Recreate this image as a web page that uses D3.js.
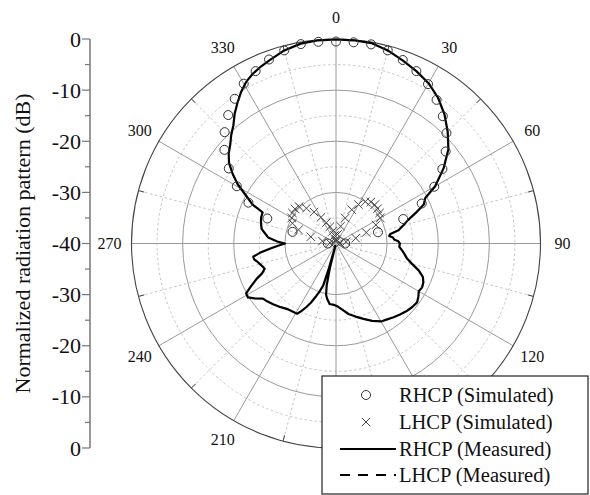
<!DOCTYPE html>
<html>
<head>
<meta charset="utf-8">
<script src="https://cdn.jsdelivr.net/npm/d3@7/dist/d3.min.js"></script>
<style>
  html, body { margin: 0; padding: 0; background: #fff; }
  svg { display: block; }
</style>
</head>
<body>
<svg id="chart" width="590" height="495"></svg>
<script>
// Polar angle labels (degrees, clockwise from top) and radial dB levels
const angleTicks = [0, 30, 60, 90, 120, 150, 180, 210, 240, 270, 300, 330];
const radialTicks = [0, -10, -20, -30, -40];
const axisTickLabels = ["0", "-10", "-20", "-30", "-40"];

// RHCP, simulated
const rhcpSimAngles = [-90, -75, -70, -65, -60, -55, -50, -45, -40, -35, -30, -25, -20, -15, -10, -5,
  0, 5, 10, 15, 20, 25, 30, 35, 40, 45, 50, 55, 60, 65, 70, 75, 90];
const rhcpSimValues = [-38.4, -31.2, -25.7, -21.1, -17.6, -14.4, -11.5, -9.2, -7.2, -5.45, -3.9, -2.8, -1.7, -0.9, -0.4, -0.4,
  -0.5, -0.5, -0.45, -0.9, -1.8, -2.8, -4.0, -5.7, -7.5, -9.45, -12.0, -14.6, -17.8, -21.5, -26.0, -31.5, -38.2];

// LHCP, simulated
const lhcpSimAngles = [-85, -80, -75, -70, -65, -60, -55, -50, -45, -40, -35, -30, -25, -20, -15, -10, -5,
  0, 5, 10, 15, 20, 25, 30, 35, 40, 45, 50, 55, 60, 65, 70, 75, 80, 85];
const lhcpSimValues = [-38.8, -37.3, -34.9, -32.2, -30.6, -30.0, -29.6, -29.5, -29.8, -31.0, -32.5, -34.1, -35.5, -36.5, -37.5, -38.4, -39.3,
  -39.6, -39.2, -38.2, -36.5, -34.7, -32.7, -31.2, -30.0, -29.4, -29.3, -29.4, -29.6, -30.0, -31.4, -33.7, -36.0, -38.0, -39.2];

// RHCP, measured (full turn)
const rhcpMeasAngles = [0, 5, 10, 15, 20, 25, 30, 35, 40, 45, 50, 55, 60, 63, 66, 69, 72, 75, 78, 80, 82, 84, 86, 88,
  90, 93, 96, 99, 102, 105, 108, 111, 114, 117, 120, 123, 126, 130, 134, 138, 142, 146, 150, 155, 160, 165, 170, 174, 178,
  182, 186, 189, 191, 192.5, 194, 195, 196, 197, 199, 200.5, 203, 205, 207, 209, 213, 217, 221, 226, 230, 233, 236, 238.5,
  241, 243, 246, 248, 250.5, 253, 256.5, 259, 261, 263, 265.5, 268, 270, 272, 275, 278, 281, 285, 289, 293, 295, 298,
  301, 304, 307, 310, 313, 316, 319, 322, 325, 328, 331, 334, 337, 340, 345, 350, 355, 360];
const rhcpMeasValues = [-0.1, -0.1, -0.2, -0.9, -1.9, -2.8, -3.8, -5.2, -7.0, -9.1, -11.3, -14.3, -17.6, -20.4, -21.2, -23.3, -25.2, -26.4, -27.5, -29.2, -29.5, -28.8, -28.6, -27.8,
  -27.5, -27.6, -27.0, -26.4, -25.8, -24.6, -23.0, -21.8, -21.3, -21.1, -21.3, -20.8, -20.4, -20.6, -20.9, -21.3, -21.7, -22.1, -22.4, -23.3, -24.3, -25.2, -26.0, -26.9, -27.6,
  -28.0, -28.1, -29.0, -29.8, -31.6, -35.0, -39.5, -35.0, -31.4, -30.0, -29.1, -27.4, -26.3, -25.2, -24.3, -24.2, -24.0, -23.5, -22.9, -22.4, -22.1, -20.8, -19.8,
  -19.9, -21.2, -23.0, -24.4, -25.2, -24.9, -24.3, -23.7, -23.6, -25.0, -27.0, -28.8, -30.0, -28.5, -26.7, -26.0, -25.2, -24.8, -24.5, -24.4, -22.0, -20.1,
  -17.6, -15.6, -13.8, -12.6, -11.7, -10.5, -9.4, -7.8, -6.4, -5.0, -3.8, -3.0, -2.4, -1.9, -0.9, -0.3, -0.1, -0.1];

const legendLabels = ["RHCP (Simulated)", "LHCP (Simulated)", "RHCP (Measured)", "LHCP (Measured)"];

const FONT = "'Liberation Serif', 'Times New Roman', serif";
const svg = d3.select("#chart");
const cx = 336, cy = 243.5, R = 204.5;
const toRad = d => d * Math.PI / 180;

const r = d3.scaleLinear().domain([-40, 0]).range([0, R]).clamp(true);
const g = svg.append("g").attr("transform", `translate(${cx},${cy})`);

// concentric grid: solid every 10 dB, dashed at the 5 dB midpoints
const gridLevels = d3.range(-35, 0, 5);
g.selectAll("circle.grid").data(gridLevels).join("circle")
  .attr("class", "grid")
  .attr("r", d => r(d))
  .attr("fill", "none")
  .attr("stroke", d => d % 10 === 0 ? "#9a9a9a" : "#c4c4c4")
  .attr("stroke-width", 1)
  .attr("stroke-dasharray", d => d % 10 === 0 ? null : "2.5,2.5");

// spokes: solid every 30 deg, dashed in between
const spokes = d3.range(0, 360, 15);
g.selectAll("line.spoke").data(spokes).join("line")
  .attr("class", "spoke")
  .attr("x1", 0).attr("y1", 0)
  .attr("x2", d => R * Math.sin(toRad(d)))
  .attr("y2", d => -R * Math.cos(toRad(d)))
  .attr("stroke", d => d % 30 === 0 ? "#9a9a9a" : "#c4c4c4")
  .attr("stroke-width", 1)
  .attr("stroke-dasharray", d => d % 30 === 0 ? null : "2.5,2.5");

// outer ring with small inward ticks
g.append("circle").attr("r", R).attr("fill", "none").attr("stroke", "#444").attr("stroke-width", 1.1);
g.selectAll("line.tick").data(spokes.filter(d => d % 30 !== 0)).join("line")
  .attr("class", "tick")
  .attr("x1", d => R * Math.sin(toRad(d))).attr("y1", d => -R * Math.cos(toRad(d)))
  .attr("x2", d => (R - 6) * Math.sin(toRad(d))).attr("y2", d => -(R - 6) * Math.cos(toRad(d)))
  .attr("stroke", "#444").attr("stroke-width", 1);

// angle labels
g.selectAll("text.ang").data(angleTicks).join("text")
  .attr("class", "ang")
  .attr("x", d => (R + 22) * Math.sin(toRad(d)))
  .attr("y", d => -(R + 22) * Math.cos(toRad(d)) + 5.5)
  .attr("text-anchor", "middle")
  .attr("font-family", FONT)
  .attr("font-size", 16)
  .attr("fill", "#111")
  .text(d => d);

// measured RHCP
const radialLine = d3.lineRadial()
  .angle(d => toRad(d[0]))
  .radius(d => r(d[1]));
const meas = rhcpMeasAngles.map((a, i) => [a, rhcpMeasValues[i]]);
g.append("path").datum(meas)
  .attr("d", radialLine)
  .attr("fill", "none")
  .attr("stroke", "#000")
  .attr("stroke-width", 2.2)
  .attr("stroke-linejoin", "round");

// simulated RHCP markers
const pol = (a, v) => [r(v) * Math.sin(toRad(a)), -r(v) * Math.cos(toRad(a))];
g.selectAll("circle.rs").data(rhcpSimAngles.map((a, i) => pol(a, rhcpSimValues[i]))).join("circle")
  .attr("class", "rs")
  .attr("cx", d => d[0]).attr("cy", d => d[1]).attr("r", 4.5)
  .attr("fill", "none").attr("stroke", "#333").attr("stroke-width", 1);

// simulated LHCP markers
const xMark = s => `M${-s},${-s}L${s},${s}M${-s},${s}L${s},${-s}`;
g.selectAll("path.ls").data(lhcpSimAngles.map((a, i) => pol(a, lhcpSimValues[i]))).join("path")
  .attr("class", "ls")
  .attr("transform", d => `translate(${d[0]},${d[1]})`)
  .attr("d", xMark(4.2))
  .attr("fill", "none").attr("stroke", "#444").attr("stroke-width", 1);

// left dB axis, mirrored about the centre
const axX = 90;
const yTop = d3.scaleLinear().domain([0, -40]).range([cy - R, cy]);
const yBot = d3.scaleLinear().domain([-40, 0]).range([cy, cy + R]);
const ax = svg.append("g");
ax.append("line").attr("x1", axX).attr("x2", axX).attr("y1", cy - R).attr("y2", cy + R)
  .attr("stroke", "#777").attr("stroke-width", 1.5);
const majorYs = radialTicks.map((v, i) => ({ y: yTop(v), t: axisTickLabels[i] }))
  .concat(radialTicks.slice(0, 4).map((v, i) => ({ y: yBot(v), t: axisTickLabels[i] })));
const minorYs = d3.range(-35, 0, 10).map(v => yTop(v)).concat(d3.range(-35, 0, 10).map(v => yBot(v)));
ax.selectAll("line.maj").data(majorYs).join("line")
  .attr("x1", axX - 8).attr("x2", axX).attr("y1", d => d.y).attr("y2", d => d.y)
  .attr("stroke", "#777").attr("stroke-width", 1.2);
ax.selectAll("line.min").data(minorYs).join("line")
  .attr("x1", axX - 5).attr("x2", axX).attr("y1", d => d).attr("y2", d => d)
  .attr("stroke", "#777").attr("stroke-width", 1.2);
ax.selectAll("text").data(majorYs).join("text")
  .attr("x", axX - 9).attr("y", d => d.y + 7.5)
  .attr("text-anchor", "end")
  .attr("font-family", FONT)
  .attr("font-size", 22)
  .attr("fill", "#111")
  .text(d => d.t);

svg.append("text")
  .attr("transform", `translate(30,${cy}) rotate(-90)`)
  .attr("text-anchor", "middle")
  .attr("font-family", FONT)
  .attr("font-size", 22)
  .attr("fill", "#111")
  .text("Normalized radiation pattern (dB)");

// legend
const lg = svg.append("g");
lg.append("rect").attr("x", 322).attr("y", 376).attr("width", 266).attr("height", 118)
  .attr("fill", "#fff").attr("stroke", "#222").attr("stroke-width", 1.2);
const rowY = [395, 422, 449, 475];
lg.append("circle").attr("cx", 366).attr("cy", rowY[0]).attr("r", 4.5)
  .attr("fill", "none").attr("stroke", "#333").attr("stroke-width", 1);
lg.append("path").attr("transform", `translate(366,${rowY[1]})`).attr("d", xMark(4.2))
  .attr("fill", "none").attr("stroke", "#444").attr("stroke-width", 1);
lg.append("line").attr("x1", 340).attr("x2", 396).attr("y1", rowY[2]).attr("y2", rowY[2])
  .attr("stroke", "#000").attr("stroke-width", 2.2);
lg.append("line").attr("x1", 340).attr("x2", 396).attr("y1", rowY[3]).attr("y2", rowY[3])
  .attr("stroke", "#000").attr("stroke-width", 2).attr("stroke-dasharray", "10,8");
lg.selectAll("text").data(legendLabels).join("text")
  .attr("x", 399).attr("y", (d, i) => rowY[i] + 7)
  .attr("font-family", FONT)
  .attr("font-size", 20.5)
  .attr("fill", "#111")
  .text(d => d);
</script>
</body>
</html>
